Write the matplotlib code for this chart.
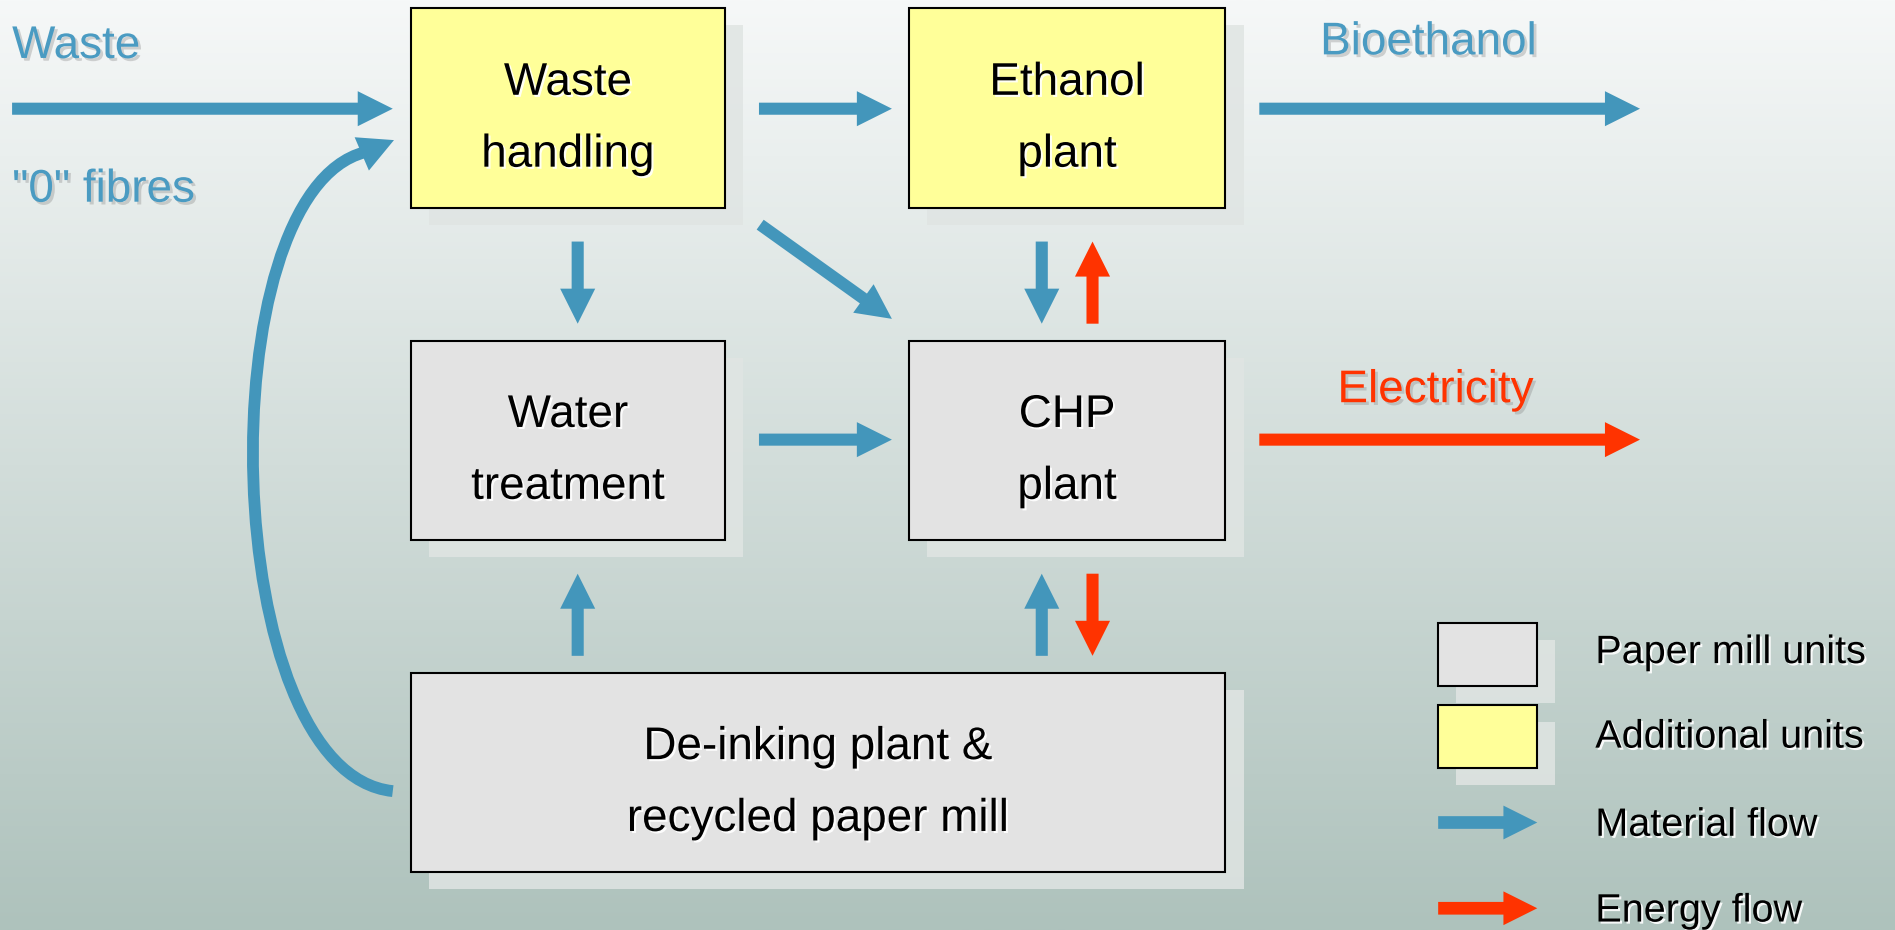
import numpy as np
import matplotlib.pyplot as plt
import matplotlib.patheffects as pe
from matplotlib.patches import Rectangle, FancyArrow, PathPatch
from matplotlib.path import Path
from matplotlib.colors import to_rgb

plt.rcParams['font.family'] = ['Liberation Sans', 'DejaVu Sans']

# Units: label lines and fill colours
unit_lines = [
    ["Waste", "handling"],
    ["Ethanol", "plant"],
    ["Water", "treatment"],
    ["CHP", "plant"],
    ["De-inking plant &", "recycled paper mill"],
]
unit_kind = ["additional", "additional", "paper", "paper", "paper"]

# Outside streams
stream_labels = ["Waste", "\"0\" fibres", "Bioethanol", "Electricity"]
stream_kind = ["material", "material", "material", "energy"]

# Legend
legend_labels = ["Paper mill units", "Additional units", "Material flow", "Energy flow"]

BLUE = '#4396BB'
RED = '#FF3300'
fills = {"paper": '#E3E3E3', "additional": '#FFFF99'}
flow_colors = {"material": BLUE, "energy": RED}

# layout (in 1568 x 770 reference units)
unit_boxes = [(340, 7, 260, 165), (752, 7, 262, 165), (340, 282, 260, 165),
              (752, 282, 262, 165), (340, 557, 674, 165)]
stream_pos = [(10, 48, 'left'), (10, 167, 'left'), (1182, 45, 'center'), (1188, 333, 'center')]

# flows: (x0, y0, x1, y1, kind)
flows = [
    (10, 90, 325, 90, "material"),
    (628, 90, 738, 90, "material"),
    (1042, 90, 1357, 90, "material"),
    (478, 200, 478, 268, "material"),
    (629, 186, 738, 264, "material"),
    (862, 200, 862, 268, "material"),
    (904, 268, 904, 200, "energy"),
    (628, 364, 738, 364, "material"),
    (1042, 364, 1357, 364, "energy"),
    (478, 543, 478, 475, "material"),
    (862, 543, 862, 475, "material"),
    (904, 475, 904, 543, "energy"),
]

fig = plt.figure(figsize=(18.95, 9.3), dpi=100)
ax = fig.add_axes([0, 0, 1, 1])
ax.set_xlim(0, 1568)
ax.set_ylim(770, 0)
ax.axis('off')

# background gradient
top = np.array(to_rgb('#F6F8F8'))
bot = np.array(to_rgb('#AEC2BC'))
t = np.linspace(0, 1, 400)[:, None, None]
grad = top * (1 - t) + bot * t
ax.imshow(grad, extent=[0, 1568, 770, 0], aspect='auto', zorder=0)

dark_shadow = [pe.withSimplePatchShadow(offset=(2, -2), shadow_rgbFace='#888888', alpha=0.35)]
light_shadow = [pe.withSimplePatchShadow(offset=(1.5, -1.5), shadow_rgbFace='white', alpha=0.9)]


def box(x, y, w, h, fc):
    ax.add_patch(Rectangle((x + 15, y + 14), w, h, fc='#E0E5E3', ec='none', alpha=0.85, zorder=1))
    ax.add_patch(Rectangle((x, y), w, h, fc=fc, ec='black', lw=1.5, zorder=2))


def arrow(x0, y0, x1, y1, color, w=10, hw=29, hl=29):
    ax.add_patch(FancyArrow(x0, y0, x1 - x0, y1 - y0, width=w, head_width=hw,
                            head_length=hl, length_includes_head=True,
                            fc=color, ec='none', lw=0, zorder=3))


for (x, y, w, h), lines, kind in zip(unit_boxes, unit_lines, unit_kind):
    box(x, y, w, h, fills[kind])
    cx, cy = x + w / 2, y + h / 2
    for ty, s in zip([cy - 11, cy + 48.5], lines):
        ax.text(cx, ty, s, ha='center', va='baseline', fontsize=33, color='black',
                path_effects=light_shadow, zorder=4)

for (x, y, ha), s, kind in zip(stream_pos, stream_labels, stream_kind):
    ax.text(x, y, s, ha=ha, va='baseline', fontsize=33,
            color='#4A9BC2' if kind == "material" else RED,
            path_effects=dark_shadow, zorder=4)

for x0, y0, x1, y1, kind in flows:
    arrow(x0, y0, x1, y1, flow_colors[kind])

# recycled fibre loop back to waste handling
verts = [(325, 655), (180, 640), (170, 160), (302, 126)]
loop = Path(verts, [Path.MOVETO, Path.CURVE4, Path.CURVE4, Path.CURVE4])
ax.add_patch(PathPatch(loop, fc='none', ec=BLUE, lw=8.5, capstyle='butt', zorder=3))
arrow(298, 128, 326, 116, BLUE, w=4, hw=30, hl=29)

# legend
leg_y = [549, 619, 692, 763]
box(1190, 516, 82, 52, fills["paper"])
box(1190, 584, 82, 52, fills["additional"])
arrow(1190, 681, 1272, 681, BLUE, w=10.5, hw=28, hl=28)
arrow(1190, 752, 1272, 752, RED, w=10.5, hw=28, hl=28)
for y, s in zip(leg_y, legend_labels):
    ax.text(1320, y, s, ha='left', va='baseline', fontsize=28.5, color='black',
            path_effects=light_shadow, zorder=4)

fig.savefig('out.png', dpi=100)
